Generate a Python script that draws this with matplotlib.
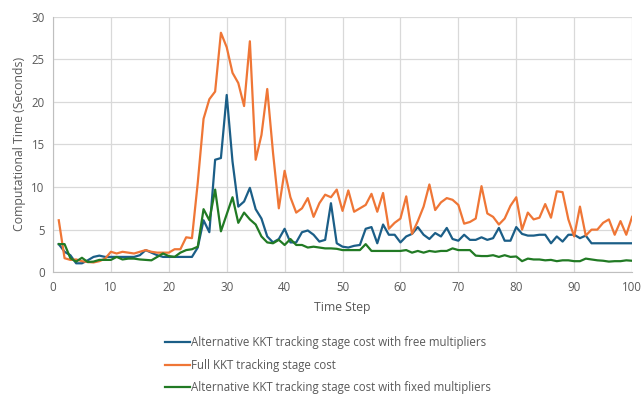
import numpy as np
import matplotlib
matplotlib.use("Agg")
import matplotlib.pyplot as plt

plt.rcParams['font.family'] = ['Open Sans', 'DejaVu Sans']

steps = np.arange(1, 101)

free_mult = [3.3, 2.4, 2.0, 1.05, 1.05, 1.4, 1.8, 1.95, 1.8, 1.8,
             1.8, 1.8, 1.8, 1.8, 2.0, 2.6, 2.3, 2.0, 1.8, 1.8,
             1.8, 1.8, 1.8, 1.8, 2.9, 6.1, 4.7, 13.2, 13.4, 20.8,
             13.0, 7.7, 8.3, 9.9, 7.4, 6.3, 4.2, 3.5, 3.9, 5.1,
             3.5, 3.5, 4.7, 4.9, 4.4, 3.6, 3.8, 8.1, 3.4, 3.0,
             2.9, 3.1, 3.2, 5.1, 5.3, 3.4, 5.6, 4.4, 4.4, 3.5,
             4.2, 4.5, 5.3, 4.4, 3.9, 4.6, 4.2, 5.2, 3.9, 3.7,
             4.4, 3.8, 3.8, 4.1, 3.8, 4.0, 5.2, 3.7, 3.7, 5.3,
             4.5, 4.3, 4.3, 4.4, 4.4, 3.4, 4.2, 3.6, 4.4, 4.4,
             4.0, 4.3, 3.4, 3.4, 3.4, 3.4, 3.4, 3.4, 3.4, 3.4]

full_kkt = [6.1, 1.65, 1.45, 1.5, 1.3, 1.2, 1.15, 1.3, 1.6, 2.4,
            2.2, 2.4, 2.3, 2.2, 2.4, 2.6, 2.4, 2.3, 2.3, 2.3,
            2.7, 2.7, 4.1, 4.0, 10.5, 18.0, 20.3, 21.2, 28.1, 26.4,
            23.4, 22.2, 19.5, 27.1, 13.2, 16.1, 21.5, 14.0, 7.5, 11.9,
            8.8, 7.0, 7.5, 8.7, 6.5, 8.1, 9.1, 8.8, 9.7, 7.2,
            9.6, 7.1, 7.5, 7.9, 9.2, 7.1, 9.3, 5.1, 5.8, 6.3,
            8.9, 4.5, 6.0, 7.7, 10.3, 7.3, 8.2, 8.7, 8.5, 7.9,
            5.7, 5.9, 6.3, 10.1, 6.9, 6.5, 5.6, 6.3, 7.8, 8.8,
            5.0, 7.0, 6.2, 6.4, 8.0, 6.4, 9.5, 9.4, 6.2, 4.2,
            7.7, 4.3, 5.0, 5.0, 5.8, 6.2, 4.4, 6.0, 4.4, 6.5]

fixed_mult = [3.3, 3.3, 1.65, 1.25, 1.7, 1.2, 1.25, 1.45, 1.45, 1.45,
              1.8, 1.5, 1.6, 1.6, 1.5, 1.45, 1.4, 1.8, 2.2, 1.9,
              1.8, 2.3, 2.6, 2.7, 3.0, 7.4, 6.1, 9.7, 4.8, 6.8,
              8.8, 5.8, 7.0, 6.2, 5.6, 4.2, 3.5, 3.4, 3.8, 3.2,
              3.9, 3.2, 3.2, 2.9, 3.0, 2.9, 2.8, 2.8, 2.75, 2.6,
              2.6, 2.6, 2.6, 3.3, 2.5, 2.5, 2.5, 2.5, 2.5, 2.5,
              2.6, 2.3, 2.5, 2.3, 2.5, 2.4, 2.5, 2.5, 2.8, 2.6,
              2.6, 2.6, 1.95, 1.9, 1.9, 2.0, 1.8, 2.0, 1.8, 1.85,
              1.3, 1.6, 1.5, 1.5, 1.4, 1.45, 1.3, 1.4, 1.4, 1.3,
              1.3, 1.6, 1.5, 1.4, 1.35, 1.25, 1.3, 1.3, 1.4, 1.35]

labels = ['Alternative KKT tracking stage cost with free multipliers',
          'Full KKT tracking stage cost',
          'Alternative KKT tracking stage cost with fixed multipliers']
colors = ['#1b5e87', '#ef7636', '#217a24']

fig = plt.figure(figsize=(6.43, 3.94), dpi=100)
ax = fig.add_axes([0.0824, 0.309, 0.9006, 0.649])

for ys, lab, c in zip([free_mult, full_kkt, fixed_mult], labels, colors):
    ax.plot(steps, ys, color=c, linewidth=1.6, label=lab)

ax.set_xlim(0, 100)
ax.set_ylim(0, 30)
ax.set_xticks(range(0, 101, 10))
ax.set_yticks(range(0, 31, 5))
ax.grid(True, color='#d9d9d9', linewidth=0.9)
ax.set_axisbelow(True)
for s in ['top', 'right']:
    ax.spines[s].set_visible(False)
for s in ['left', 'bottom']:
    ax.spines[s].set_color('#bfbfbf')
ax.tick_params(length=0, labelsize=8.3, colors='#595959', pad=6)
ax.set_xlabel('Time Step', fontsize=8.8, color='#595959', labelpad=5)
ax.set_ylabel('Computational Time (Seconds)', fontsize=8.8, color='#595959', labelpad=4)

leg = fig.legend(loc='upper left', bbox_to_anchor=(0.25, 0.158),
                 frameon=False, fontsize=8.3, handlelength=2.1,
                 handletextpad=0.15, labelspacing=0.8, borderaxespad=0)
for t in leg.get_texts():
    t.set_color('#595959')

fig.savefig('out.png', dpi=100)
